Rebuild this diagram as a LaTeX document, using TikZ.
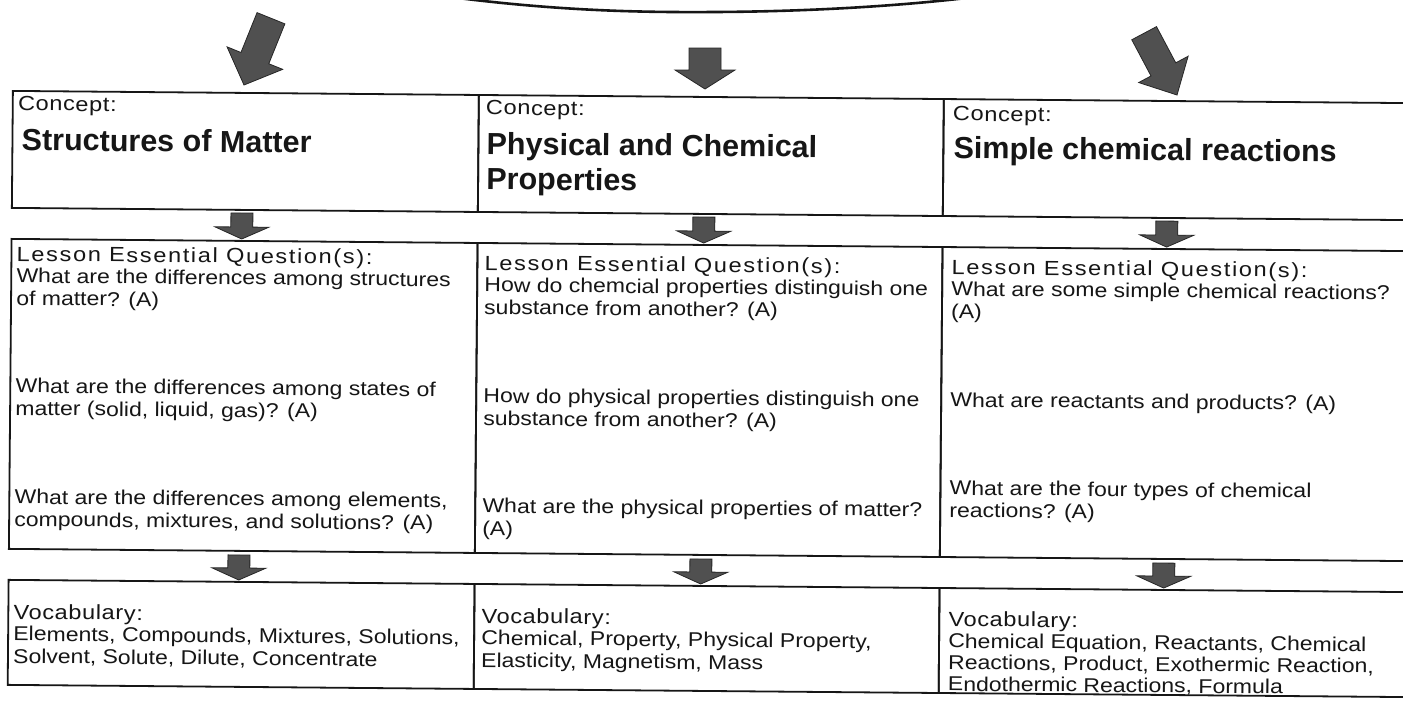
\documentclass[tikz,border=0pt]{standalone}
\usepackage{fontspec}
\setmainfont{Liberation Sans}
\newfontfamily\bodyfont[FakeStretch=1.15]{Liberation Sans}
\newfontfamily\lblfont[FakeStretch=1.15,LetterSpace=3]{Liberation Sans}
\newfontfamily\lesfont[FakeStretch=1.15,LetterSpace=8]{Liberation Sans}
\definecolor{ink}{HTML}{161616}
\definecolor{arrowgray}{HTML}{505050}
% name, tip x, tip y, angle, total length, head length, body half width, head half width
\newcommand\blockarrow[8]{%
  \begin{scope}[shift={(#2,#3)}, rotate=#4]
    \fill[afill] (0,0) -- (#8,-#6) -- (#7,-#6) -- (#7,-#5) -- (-#7,-#5) -- (-#7,-#6) -- (-#8,-#6) -- cycle;
    \coordinate (#1) at (0,0);
  \end{scope}}
\begin{document}
\begin{tikzpicture}[x=1pt,y=-1pt,
  cell/.style={draw=ink, line width=1.8pt, inner sep=0pt, anchor=north west},
  lbl/.style={anchor=north west, inner sep=0pt, text=ink, font=\lblfont\fontsize{20.5}{22.5}\selectfont},
  les/.style={anchor=north west, inner sep=0pt, text=ink, font=\lesfont\fontsize{20.5}{22.5}\selectfont},
  head/.style={anchor=north west, inner sep=0pt, align=left, text=ink, font=\bfseries\fontsize{30.5}{35}\selectfont},
  body/.style={anchor=north west, inner sep=0pt, align=left, text=ink, font=\bodyfont\fontsize{20}{22.5}\selectfont},
  tight/.style={font=\bodyfont\fontsize{20}{21.5}\selectfont},
  afill/.style={fill=arrowgray, draw=black!85, line width=0.8pt, line join=miter},
  curve/.style={draw=ink, line width=2.6pt}
]
\useasboundingbox (0,0) rectangle (1403,702);
\fill[white] (0,0) rectangle (1403,702);

% top curve
\coordinate (cl) at (450,-3);
\coordinate (cm) at (715,12);
\coordinate (cr) at (975,-3);
\draw[curve] (cl) .. controls (560,11) and (640,12.5) .. (cm) .. controls (810,11.5) and (900,6) .. (cr);

% top arrows
\blockarrow{ta1}{244}{85}{-22}{72}{29}{15}{30}
\blockarrow{ta2}{705}{89}{0}{41}{19}{16}{30}
\blockarrow{ta3}{1177}{95}{28}{70}{29}{14}{28}

\begin{scope}[rotate around={-0.5:(12,90)}, transform shape]
  % row 1
  \node[cell, minimum width=466pt, minimum height=117pt] (c11) at (12,90) {};
  \node[cell, minimum width=465pt, minimum height=117pt] (c12) at (478,90) {};
  \node[cell, minimum width=482pt, minimum height=117pt] (c13) at (943,90) {};
  % row 2
  \node[cell, minimum width=466pt, minimum height=310pt] (c21) at (12,238) {};
  \node[cell, minimum width=465pt, minimum height=310pt] (c22) at (478,238) {};
  \node[cell, minimum width=482pt, minimum height=310pt] (c23) at (943,238) {};
  % row 3
  \node[cell, minimum width=466pt, minimum height=105pt] (c31) at (12,579) {};
  \node[cell, minimum width=465pt, minimum height=105pt] (c32) at (478,579) {};
  \node[cell, minimum width=482pt, minimum height=105pt] (c33) at (943,579) {};

  % small arrows
  \blockarrow{sa1}{243}{237}{0}{26}{12}{11}{27}
  \blockarrow{sa2}{705}{237}{0}{26}{12}{11}{27}
  \blockarrow{sa3}{1168}{237}{0}{26}{12}{11}{27}
  \blockarrow{sb1}{243}{578}{0}{25}{12}{11}{27}
  \blockarrow{sb2}{705}{578}{0}{25}{12}{11}{27}
  \blockarrow{sb3}{1168}{578}{0}{25}{12}{11}{27}

  % concept row
  \node[lbl] (k1) at (18,96) {Concept:};
  \node[lbl] (k2) at (486,96) {Concept:};
  \node[lbl] (k3) at (953,98) {Concept:};
  \node[head] (h1) at (22,128) {Structures of Matter};
  \node[head] (h2) at (487,128) {Physical and Chemical\\Properties};
  \node[head] (h3) at (954,128) {Simple chemical reactions};

  % question row
  \node[les] (l1) at (18,246) {Lesson Essential Question(s):};
  \node[les] (l2) at (486,251) {Lesson Essential Question(s):};
  \node[les] (l3) at (953,251) {Lesson Essential Question(s):};

  \node[body] (q11) at (18,268) {What are the differences among structures\\of matter? (A)};
  \node[body] (q12) at (18,378) {What are the differences among states of\\matter (solid, liquid, gas)? (A)};
  \node[body] (q13) at (18,489) {What are the differences among elements,\\compounds, mixtures, and solutions? (A)};

  \node[body] (q21) at (486,273) {How do chemcial properties distinguish one\\substance from another? (A)};
  \node[body] (q22) at (486,384) {How do physical properties distinguish one\\substance from another? (A)};
  \node[body] (q23) at (486,494) {What are the physical properties of matter?\\(A)};

  \node[body] (q31) at (953,273) {What are some simple chemical reactions?\\(A)};
  \node[body] (q32) at (953,384) {What are reactants and products? (A)};
  \node[body] (q33) at (953,472) {What are the four types of chemical\\reactions? (A)};

  % vocabulary row
  \node[lbl] (v1) at (18,604) {Vocabulary:};
  \node[lbl] (v2) at (486,604) {Vocabulary:};
  \node[lbl] (v3) at (953,603) {Vocabulary:};
  \node[body] (w1) at (18,626) {Elements, Compounds, Mixtures, Solutions,\\Solvent, Solute, Dilute, Concentrate};
  \node[body] (w2) at (486,626) {Chemical, Property, Physical Property,\\Elasticity, Magnetism, Mass};
  \node[body, tight] (w3) at (953,625) {Chemical Equation, Reactants, Chemical\\Reactions, Product, Exothermic Reaction,\\Endothermic Reactions, Formula};
\end{scope}
\end{tikzpicture}
\end{document}
